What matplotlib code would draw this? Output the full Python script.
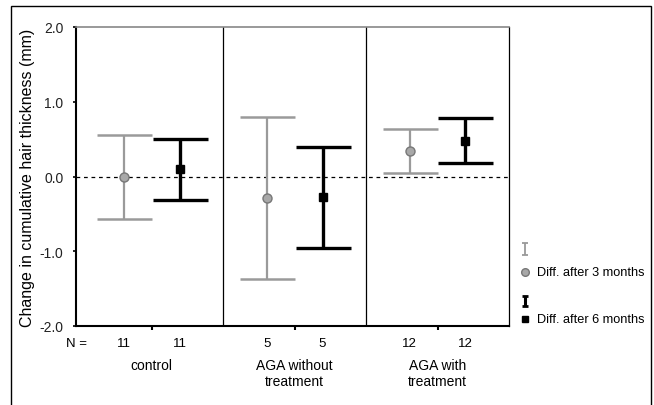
import matplotlib
matplotlib.use("Agg")
import matplotlib.pyplot as plt
from matplotlib.patches import Rectangle

plt.rcParams['font.family'] = ['Liberation Sans', 'DejaVu Sans']

groups = ["control", "AGA without\ntreatment", "AGA with\ntreatment"]
n_3m = [11, 5, 12]
n_6m = [11, 5, 12]
mean_3m = [0.0, -0.29, 0.345]
low_3m = [-0.57, -1.37, 0.05]
high_3m = [0.56, 0.79, 0.64]
mean_6m = [0.10, -0.27, 0.48]
low_6m = [-0.31, -0.96, 0.18]
high_6m = [0.50, 0.39, 0.78]
yticks = [2.0, 1.0, 0.0, -1.0, -2.0]

fig = plt.figure(figsize=(6.54, 4.06), dpi=100)
ax = fig.add_axes([76/654, 79/406, 433/654, 299/406])

off = 0.195
xc = [1, 2, 3]
x3 = [c - off for c in xc]
x6 = [c + off for c in xc]

gray = '#9a9a9a'
ax.axhline(0, color='black', lw=0.9, ls=(0, (3, 3)), zorder=1)

ax.errorbar(x3, mean_3m,
            yerr=[[m - l for m, l in zip(mean_3m, low_3m)],
                  [h - m for m, h in zip(mean_3m, high_3m)]],
            fmt='o', color=gray, ecolor=gray, ms=6.5, mec='#777777', mfc='#a8a8a8',
            elinewidth=1.6, capsize=19.8, capthick=1.8, zorder=3)
ax.errorbar(x6, mean_6m,
            yerr=[[m - l for m, l in zip(mean_6m, low_6m)],
                  [h - m for m, h in zip(mean_6m, high_6m)]],
            fmt='s', color='black', ecolor='black', ms=6,
            elinewidth=2.4, capsize=19.8, capthick=2.4, zorder=4)

for sep in [1.5, 2.5]:
    ax.axvline(sep, color='black', lw=0.9, zorder=2)

ax.set_xlim(0.47, 3.5)
ax.set_ylim(-2.0, 2.0)
ax.set_yticks(yticks)
ax.set_yticklabels([f"{v:.1f}" for v in yticks], fontsize=10, color='#222222')
ax.set_xticks(xc)
ax.set_xticklabels([])
ax.tick_params(axis='x', direction='out', length=3, width=1.5)
ax.tick_params(axis='y', direction='out', length=2, width=1.2, pad=7)
ax.set_ylabel("Change in cumulative hair thickness (mm)", fontsize=11.5, labelpad=3)

ax.spines['left'].set_linewidth(1.5)
ax.spines['bottom'].set_linewidth(1.5)
ax.spines['top'].set_color('#888888')
ax.spines['top'].set_linewidth(1.2)
ax.spines['right'].set_linewidth(0.9)

trans = ax.get_xaxis_transform()
ax.text(0.47, -0.036, "N =", transform=trans, ha='center', va='top', fontsize=9.5)
for x, n in zip(x3, n_3m):
    ax.text(x, -0.036, str(n), transform=trans, ha='center', va='top', fontsize=9.5)
for x, n in zip(x6, n_6m):
    ax.text(x, -0.036, str(n), transform=trans, ha='center', va='top', fontsize=9.5)
for x, g in zip(xc, groups):
    ax.text(x, -0.108, g, transform=trans, ha='center', va='top', fontsize=10,
            linespacing=1.15)

# legend
lax = fig.add_axes([0, 0, 1, 1], facecolor='none')
lax.set_xlim(0, 654)
lax.set_ylim(406, 0)
lax.axis('off')
lax.errorbar([525], [250], yerr=[[6], [6]], fmt='none', ecolor=gray,
             elinewidth=1.3, capsize=2, capthick=1.3)
lax.plot([525], [273], 'o', ms=5.5, mfc='#a8a8a8', mec='#777777')
lax.text(537, 273, "Diff. after 3 months", va='center', ha='left', fontsize=9.2)
lax.errorbar([525], [302], yerr=[[5], [5]], fmt='none', ecolor='black',
             elinewidth=2.2, capsize=2, capthick=2)
lax.plot([525], [320], 's', ms=5, color='black')
lax.text(537, 320, "Diff. after 6 months", va='center', ha='left', fontsize=9.2)

fig.patches.append(Rectangle((11/654, -0.02), 640/654, 1.02 - 7/406,
                             transform=fig.transFigure, fill=False,
                             edgecolor='black', lw=1.0))

fig.savefig("out.png", dpi=100)
